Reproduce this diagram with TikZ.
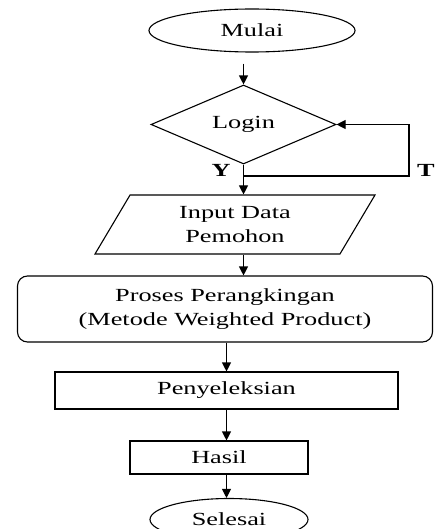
\documentclass[tikz,border=0pt]{standalone}
\usepackage{fontspec}
\setmainfont[FakeStretch=1.42]{Liberation Serif}
\usetikzlibrary{
  shapes.geometric,
  arrows.meta
}

\begin{document}
\begin{tikzpicture}[x=1pt,y=-1pt,
  every node/.style={font=\fontsize{18.5}{24}\selectfont,align=center,inner sep=0pt},
  terminal/.style={draw,ellipse,line width=1.1pt},
  decision/.style={draw,diamond,line width=1.1pt},
  io/.style={draw,trapezium,trapezium left angle=46,trapezium right angle=134,
    trapezium stretches body=true,line width=1.1pt},
  process/.style={draw,rectangle,line width=1.1pt},
  arr/.style={line width=1.1pt,-{Triangle[width=9pt,length=9pt]}}
]
\useasboundingbox (0,0) rectangle (434,529);

\node[terminal,minimum width=206,minimum height=43] (mulai) at (252.0,30.5) {Mulai};
\node[decision,minimum width=185,minimum height=61] (login) at (243.5,124.5) {Login};
\node[io,minimum width=280,minimum height=59] (input) at (235.0,224.5) {Input Data\\Pemohon};
\node[process,rounded corners=10pt,minimum width=415,minimum height=66] (proses) at (225.0,309.0) {Proses Perangkingan\\(Metode Weighted Product)};
\node[process,minimum width=343,minimum height=37] (seleksi) at (226.5,390.5) {Penyeleksian};
\node[process,minimum width=178,minimum height=33] (hasil) at (219.0,457.5) {Hasil};
\node[terminal,minimum width=158,minimum height=42] (selesai) at (229.0,519.5) {Selesai};
\node[font=\fontsize{18.5}{24}\selectfont\bfseries] (ya) at (221.0,170.0) {Y};
\node[font=\fontsize{18.5}{24}\selectfont\bfseries] (tidak) at (426.0,170.0) {T};

\coordinate (cabang) at (243.5,176.0);
\coordinate (balik) at (409.0,176.0);

\draw[arr] ([yshift=-11pt]mulai.south -| login.north) -- (login.north);
\draw[line width=1.1pt] (login.south) -- (cabang);
\draw[arr] (cabang) -- (cabang |- input.north);
\draw[arr] (cabang) -- (balik) |- (login.east);
\draw[arr] (input.south -| login.south) -- (proses.north -| login.south);
\draw[arr] (proses.south -| seleksi.north) -- (seleksi.north);
\draw[arr] (seleksi.south) -- (seleksi.south |- hasil.north);
\draw[arr] (hasil.south -| seleksi.south) -- (selesai.north -| seleksi.south);
\end{tikzpicture}
\end{document}
